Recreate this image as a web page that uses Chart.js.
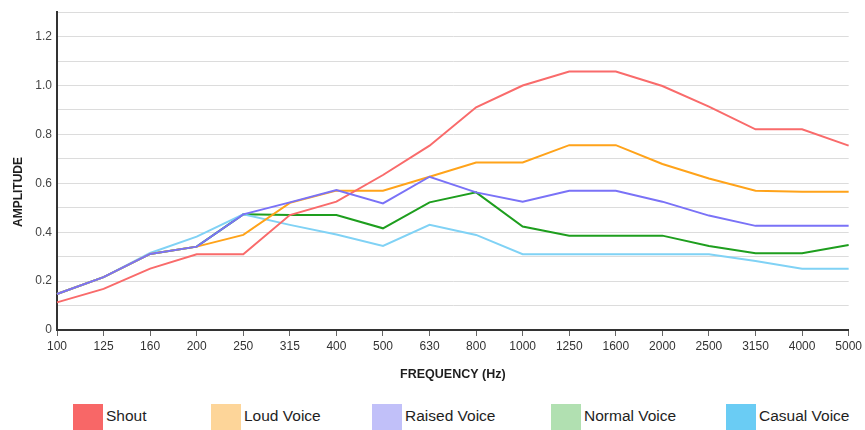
<!DOCTYPE html>
<html>
<head>
<meta charset="utf-8">
<script src="https://cdn.jsdelivr.net/npm/chart.js@4/dist/chart.umd.min.js"></script>
<style>
  html, body { margin: 0; padding: 0; background: #fff; overflow: hidden; }
  #wrap { position: relative; width: 865px; height: 430px; font-family: "Liberation Sans", Arial, sans-serif; overflow: hidden; }
  #box { position: absolute; left: 0; top: 0; width: 865px; height: 392px; }
  #legend { position: absolute; left: 0; top: 404px; width: 865px; height: 30px; }
  .item { position: absolute; top: 0; height: 30px; font-size: 15.5px; color: #1e1e1e; white-space: nowrap; }
  .sw { position: absolute; left: 0; top: 0; width: 30px; height: 30px; }
  .item span { position: absolute; left: 33px; top: 3px; line-height: 18px; }
</style>
</head>
<body>
<div id="wrap">
  <div id="box"><canvas id="c"></canvas></div>
  <div id="legend"></div>
</div>
<script>
const categories = ["100","125","160","200","250","315","400","500","630","800","1000","1250","1600","2000","2500","3150","4000","5000"];
const seriesNames = ["Shout","Loud Voice","Raised Voice","Normal Voice","Casual Voice"];
const shout  = [0.113,0.168,0.251,0.31,0.31,0.47,0.525,0.634,0.754,0.911,1.0,1.057,1.057,0.998,0.914,0.821,0.821,0.754];
const loud   = [0.147,0.216,0.311,0.341,0.389,0.52,0.57,0.57,0.627,0.685,0.685,0.756,0.756,0.679,0.62,0.57,0.566,0.566];
const raised = [0.147,0.216,0.311,0.341,0.473,0.522,0.573,0.518,0.627,0.563,0.525,0.57,0.57,0.525,0.468,0.426,0.426,0.426];
const normal = [0.147,0.216,0.311,0.341,0.473,0.47,0.47,0.416,0.522,0.563,0.423,0.386,0.386,0.386,0.344,0.314,0.314,0.348];
const casual = [0.147,0.216,0.315,0.382,0.473,0.43,0.391,0.344,0.43,0.389,0.31,0.31,0.31,0.31,0.31,0.282,0.251,0.251];
const yTickLabels = ["0","0.2","0.4","0.6","0.8","1.0","1.2"];

const lineColors = ["#f96b6b","#ffa31a","#7a72f7","#1e9e1e","#80d2f5"];
const legendColors = ["#f86767","#fdd599","#c1c0f9","#b1e0b1","#6accf4"];
const drawOrder = [1,2,0,4,3];
const legendLeft = [73,211,372,551,726];
const values = [shout, loud, raised, normal, casual];

const leg = document.getElementById('legend');
seriesNames.forEach((n,i)=>{
  const it = document.createElement('div'); it.className='item'; it.style.left = legendLeft[i] + 'px';
  const sw = document.createElement('div'); sw.className='sw'; sw.style.background = legendColors[i];
  const tx = document.createElement('span'); tx.textContent = n;
  it.appendChild(sw); it.appendChild(tx); leg.appendChild(it);
});

const yTitlePlugin = {
  id: 'yTitle',
  afterDraw(chart) {
    const ctx = chart.ctx;
    ctx.save();
    ctx.translate(19, 192);
    ctx.rotate(-Math.PI/2);
    ctx.font = 'bold 12px "Liberation Sans", Arial, sans-serif';
    ctx.fillStyle = '#1e1e1e';
    ctx.textAlign = 'center';
    ctx.textBaseline = 'middle';
    ctx.fillText('AMPLITUDE', 0, 0);
    ctx.restore();
  }
};

new Chart(document.getElementById('c'), {
  type: 'line',
  data: {
    labels: categories,
    datasets: seriesNames.map((n,i)=>({
      label: n,
      data: values[i],
      borderColor: lineColors[i],
      backgroundColor: legendColors[i],
      borderWidth: 2,
      pointRadius: 0,
      tension: 0,
      fill: false,
      order: drawOrder[i]
    }))
  },
  options: {
    responsive: true,
    maintainAspectRatio: false,
    animation: false,
    layout: { padding: { top: 12, right: 12, left: 0, bottom: 0 } },
    plugins: { legend: { display: false }, tooltip: { enabled: false } },
    scales: {
      x: {
        offset: false,
        grid: { drawOnChartArea: false, drawTicks: true, tickLength: 6, color: '#666' },
        border: { color: '#333', width: 2 },
        ticks: { color: '#333', font: { size: 12, family: '"Liberation Sans", Arial, sans-serif' }, padding: 3, maxRotation: 0, autoSkip: false },
        title: { display: true, text: 'FREQUENCY (Hz)', color: '#1e1e1e', font: { size: 12.5, weight: 'bold', family: '"Liberation Sans", Arial, sans-serif' }, padding: { top: 4, bottom: 10 } },
        afterFit(s) { s.height = 62; }
      },
      y: {
        min: 0, max: 1.3,
        grid: { color: '#dcdcdc', lineWidth: 1, drawTicks: false },
        border: { color: '#333', width: 2 },
        ticks: {
          stepSize: 0.1, padding: 5, color: '#444',
          font: { size: 12, family: '"Liberation Sans", Arial, sans-serif' },
          callback(v) {
            const k = Math.round(v*10);
            if (k % 2 !== 0) return '';
            return yTickLabels[k/2] ?? '';
          }
        },
        afterFit(s) { s.width = 57; }
      }
    }
  },
  plugins: [yTitlePlugin]
});
</script>
</body>
</html>
